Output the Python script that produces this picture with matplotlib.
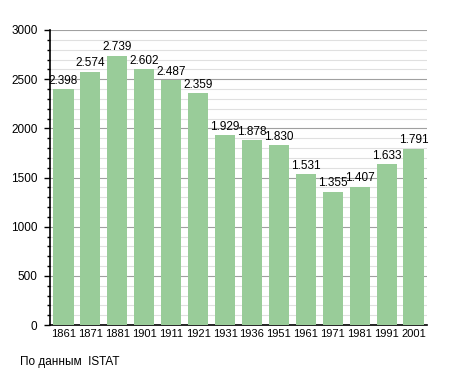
import matplotlib
matplotlib.use("Agg")
import matplotlib.pyplot as plt
from matplotlib.ticker import MultipleLocator

years = ["1861", "1871", "1881", "1901", "1911", "1921", "1931", "1936", "1951", "1961", "1971", "1981", "1991", "2001"]
population = [2398, 2574, 2739, 2602, 2487, 2359, 1929, 1878, 1830, 1531, 1355, 1407, 1633, 1791]

plt.rcParams['font.family'] = ['Liberation Sans', 'DejaVu Sans']

fig = plt.figure(figsize=(4.55, 3.73), dpi=100)
ax = fig.add_axes([50/455, 1-325/373, 377/455, 295/373])

x = range(len(years))
ax.bar(x, population, width=0.75, color='#99CC99', zorder=3)
for xi, v in zip(x, population):
    ax.text(xi, v + 25, f"{v/1000:.3f}", ha='center', va='bottom', fontsize=8.5, zorder=4)

ax.set_xlim(-0.5, len(years) - 0.5)
ax.set_ylim(0, 3000)
ax.set_xticks(list(x))
ax.set_xticklabels(years, fontsize=8)
ax.yaxis.set_major_locator(MultipleLocator(500))
ax.yaxis.set_minor_locator(MultipleLocator(100))
ax.tick_params(axis='y', labelsize=8.5, length=4, width=1, pad=5)
ax.tick_params(axis='y', which='minor', length=2.5, width=1)
ax.tick_params(axis='x', length=0, pad=3)
ax.grid(axis='y', which='major', color='#a0a0a0', linewidth=0.8, zorder=0)
ax.grid(axis='y', which='minor', color='#e0e0e0', linewidth=0.8, zorder=0)
for s in ['top', 'right']:
    ax.spines[s].set_visible(False)
ax.spines['left'].set_linewidth(1.2)
ax.spines['bottom'].set_linewidth(1.2)

fig.text(20/455, 1-362/373, "По данным  ISTAT", fontsize=8.5, va='center', ha='left')
fig.savefig("out.png", dpi=100)
